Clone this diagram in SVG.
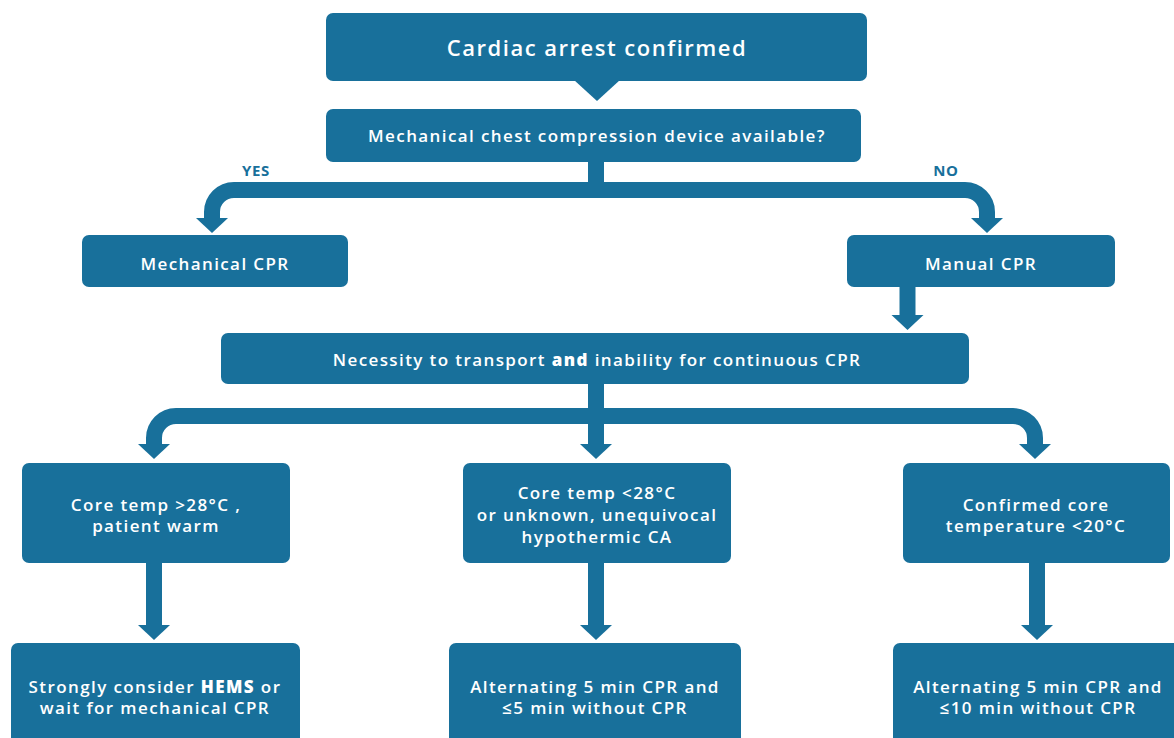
<svg xmlns="http://www.w3.org/2000/svg" width="1174" height="738" viewBox="0 0 1174 738">
<style>
.box{fill:#18709b}
.t{font-family:"Open Sans","Liberation Sans",sans-serif;fill:#ffffff;text-anchor:middle;font-weight:600;font-size:17px;letter-spacing:1.4px}
.lbl{font-family:"Open Sans","Liberation Sans",sans-serif;fill:#18709b;text-anchor:middle;font-weight:700;font-size:15px;letter-spacing:0.6px}
.c{fill:none;stroke:#18709b;stroke-width:16}
</style>
<defs>
<marker id="ah" markerUnits="userSpaceOnUse" viewBox="0 -17 16 34" refX="0" refY="0" markerWidth="16" markerHeight="34" orient="auto">
<path d="M0,-16 L15,0 L0,16 Z" fill="#18709b"/>
</marker>
</defs>
<rect width="1174" height="738" fill="#ffffff"/>
<g id="connectors">
<polygon points="574,80 620,80 597,101" fill="#18709b"/>
<path class="c" d="M596,161 V190 H234 A22 22 0 0 0 212 212 V218" marker-end="url(#ah)"/>
<path class="c" d="M596,161 V190 H965 A22 22 0 0 1 987 212 V218" marker-end="url(#ah)"/>
<path class="c" d="M907.5,287 V315" marker-end="url(#ah)"/>
<path class="c" d="M596,384 V416 H176 A22 22 0 0 0 154 438 V444" marker-end="url(#ah)"/>
<path class="c" d="M596,384 V444" marker-end="url(#ah)"/>
<path class="c" d="M596,416 H1013 A22 22 0 0 1 1035 438 V444" marker-end="url(#ah)"/>
<path class="c" d="M154,563 V625" marker-end="url(#ah)"/>
<path class="c" d="M596,563 V625" marker-end="url(#ah)"/>
<path class="c" d="M1037,563 V625" marker-end="url(#ah)"/>
</g>
<g id="n-start"><rect class="box" x="326" y="13" width="541" height="68" rx="7"/><text class="t" x="597" y="56" style="font-size:22px;font-weight:600;letter-spacing:1.5px">Cardiac arrest confirmed</text></g>
<g id="n-device"><rect class="box" x="326" y="109" width="535" height="53" rx="7"/><text class="t" x="597" y="142">Mechanical chest compression device available?</text></g>
<text class="lbl" x="256" y="176">YES</text>
<text class="lbl" x="946" y="176">NO</text>
<g id="n-mech"><rect class="box" x="82" y="235" width="266" height="52" rx="7"/><text class="t" x="215" y="270">Mechanical CPR</text></g>
<g id="n-manual"><rect class="box" x="847" y="235" width="268" height="52" rx="7"/><text class="t" x="981" y="270">Manual CPR</text></g>
<g id="n-transport"><rect class="box" x="221" y="333" width="748" height="51" rx="7"/><text class="t" x="597" y="366">Necessity to transport <tspan font-weight="800">and</tspan> inability for continuous CPR</text></g>
<g id="n-warm"><rect class="box" x="22" y="463" width="268" height="100" rx="7"/><text class="t"><tspan x="156" y="511">Core temp &gt;28°C ,</tspan><tspan x="156" y="532">patient warm</tspan></text></g>
<g id="n-cold"><rect class="box" x="463" y="463" width="268" height="100" rx="7"/><text class="t"><tspan x="597" y="499">Core temp &lt;28°C</tspan><tspan x="597" y="521">or unknown, unequivocal</tspan><tspan x="597" y="543">hypothermic CA</tspan></text></g>
<g id="n-deep"><rect class="box" x="903" y="463" width="267" height="100" rx="7"/><text class="t"><tspan x="1036" y="511">Confirmed core</tspan><tspan x="1036" y="532">temperature &lt;20°C</tspan></text></g>
<g id="n-hems"><rect class="box" x="11" y="643" width="289" height="110" rx="7"/><text class="t"><tspan x="155" y="693">Strongly consider <tspan font-weight="800">HEMS</tspan> or</tspan><tspan x="155" y="714">wait for mechanical CPR</tspan></text></g>
<g id="n-alt5"><rect class="box" x="449" y="643" width="292" height="110" rx="7"/><text class="t"><tspan x="595" y="693">Alternating 5 min CPR and</tspan><tspan x="595" y="714">≤5 min without CPR</tspan></text></g>
<g id="n-alt10"><rect class="box" x="893" y="643" width="290" height="110" rx="7"/><text class="t"><tspan x="1038" y="693">Alternating 5 min CPR and</tspan><tspan x="1038" y="714">≤10 min without CPR</tspan></text></g>
</svg>
